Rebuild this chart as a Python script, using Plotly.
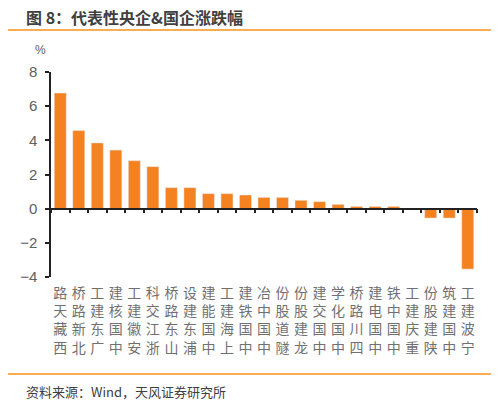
import plotly.graph_objects as go

# companies and % change
names = ['西藏天路', '北新路桥', '广东建工', '中国核建', '安徽建工', '浙江交科', '山东路桥', '浦东建设',
         '中国能建', '上海建工', '中国铁建', '中国中冶', '隧道股份', '龙建股份', '中国交建', '中国化学',
         '四川路桥', '中国电建', '中国中铁', '重庆建工', '陕建股份', '中国建筑', '宁波建工']
change = [6.77, 4.57, 3.85, 3.43, 2.81, 2.46, 1.23, 1.23, 0.88, 0.88, 0.80, 0.66, 0.66, 0.49,
          0.41, 0.25, 0.13, 0.13, 0.13, 0.0, -0.55, -0.55, -3.54]
y_ticks = [-4, -2, 0, 2, 4, 6, 8]

# vertical labels: characters stacked, read bottom to top
labels = ['<br>'.join(reversed(n)) for n in names]

orange = '#F58220'
grey = '#606060'
font_cjk = 'Noto Sans CJK SC'

# the page puts the figure 8px in from the top-left corner
off = 8
W, H = 499 - off, 403 - off
pl, pt, pw, ph = 51 - off, 72 - off, 426, 205


def px(x):
    return (x - off - pl) / pw


def py(y):
    return (pt + ph - (y - off)) / ph


fig = go.Figure()
fig.add_trace(go.Bar(x=names, y=change, marker_color=orange, width=0.65, xaxis='x'))
# invisible trace so the label axis is drawn
fig.add_trace(go.Bar(x=names, y=[0] * len(names), xaxis='x2', marker_color='rgba(0,0,0,0)',
                     hoverinfo='skip'))

ymin, ymax = -4, 8
zero_pos = (0 - ymin) / (ymax - ymin)

fig.update_layout(
    width=W, height=H,
    margin=dict(l=pl, r=W - pl - pw, t=pt, b=H - pt - ph),
    paper_bgcolor='white', plot_bgcolor='white',
    showlegend=False,
    font=dict(family=font_cjk, color=grey),
    # axis line sits on the zero line, ticks between categories
    xaxis=dict(type='category', anchor='free', position=zero_pos, automargin=False,
               showline=True, linecolor='#222222', linewidth=1.5,
               ticks='outside', tickson='boundaries', ticklen=4, tickwidth=1.5, tickcolor='#222222',
               showticklabels=False, showgrid=False, zeroline=False),
    # bottom axis only carries the labels
    xaxis2=dict(type='category', matches='x', overlaying='x', anchor='y', side='bottom', automargin=False,
                tickvals=names, ticktext=labels, tickangle=0,
                showline=False, ticks='', showgrid=False, zeroline=False,
                tickfont=dict(size=14, color='#707070', family=font_cjk), ticklabelstandoff=6),
    yaxis=dict(range=[ymin, ymax], tickvals=y_ticks, ticktext=[str(v).replace('-', '−') for v in y_ticks],
               automargin=False,
               showline=True, linecolor='#222222', linewidth=1.5,
               ticks='outside', ticklen=4, tickwidth=1.5, tickcolor='#222222',
               showgrid=False, zeroline=False, ticklabelstandoff=5,
               tickfont=dict(size=15, color=grey, family='Liberation Sans')),
)

fig.add_annotation(text='%', xref='paper', yref='paper', x=px(40), y=py(50),
                   showarrow=False, xanchor='center', yanchor='middle',
                   font=dict(size=12, color=grey, family='Liberation Sans'))

# text annotations come out a few px left of their anchor, so nudge them right
fig.add_annotation(text='<b>图 8：代表性央企&国企涨跌幅</b>', xref='paper', yref='paper',
                   x=px(24), y=py(17), showarrow=False, xanchor='left', yanchor='middle', align='left',
                   font=dict(size=16, color='#404040', family=font_cjk))
fig.add_annotation(text='资料来源：Wind，天风证券研究所', xref='paper', yref='paper',
                   x=px(24), y=py(391), showarrow=False, xanchor='left', yanchor='middle', align='left',
                   font=dict(size=13, color='#404040', family=font_cjk))

# orange separator lines
for ypix in [30, 374]:
    fig.add_shape(type='line', xref='paper', yref='paper',
                  x0=px(8), x1=px(493), y0=py(ypix), y1=py(ypix),
                  line=dict(color='#F7931E', width=1.5))

fig.write_html('out.html')
